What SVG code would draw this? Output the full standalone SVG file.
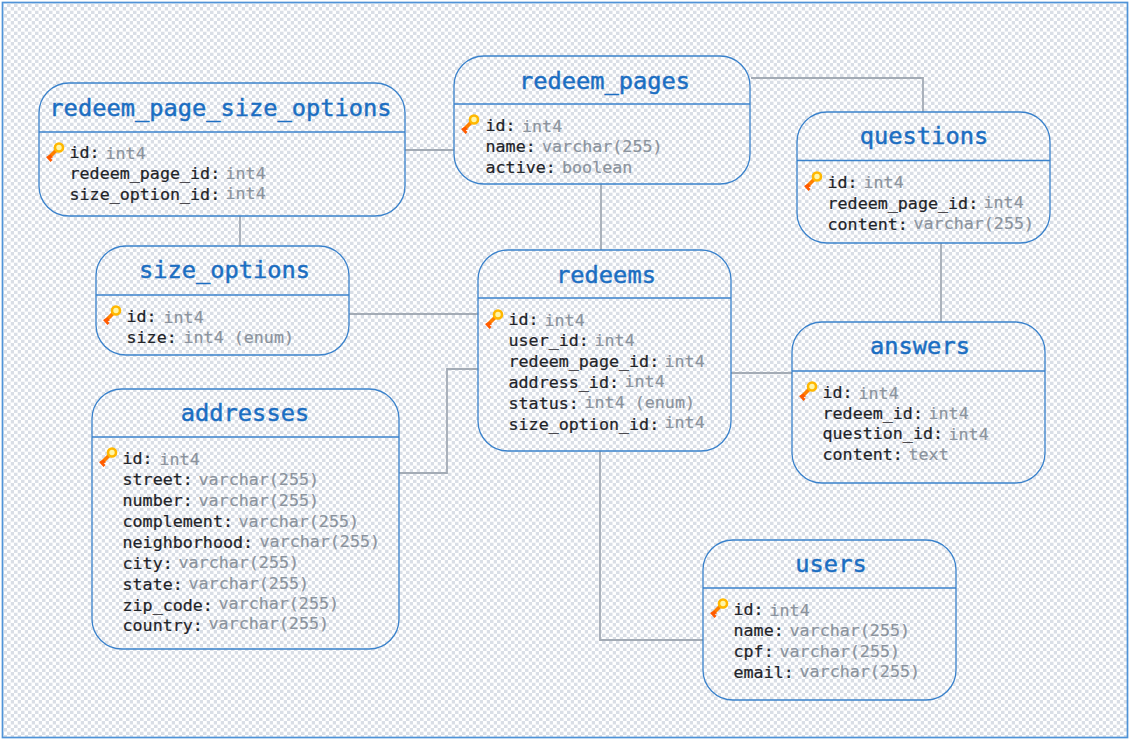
<svg xmlns="http://www.w3.org/2000/svg" width="1130" height="741" viewBox="0 0 1130 741">
<style>
.box{fill:none;stroke:#3a82cc;stroke-width:1.3}
.hd{stroke:#3a82cc;stroke-width:1.3;fill:none}
.c{fill:none;stroke:#a3abb5;stroke-width:1.8}
text{font-family:"DejaVu Sans Mono","Liberation Mono",monospace}
.t{font-size:23.7px;fill:#1b6ec2;stroke:#1b6ec2;stroke-width:.45;text-anchor:middle}
.l{font-size:16.7px;fill:#1f2328;stroke:#1f2328;stroke-width:.22}
.y{font-size:16.7px;fill:#8b939d;stroke:#8b939d;stroke-width:.2}
</style>
<defs>
<pattern id="bg" width="7" height="7" patternUnits="userSpaceOnUse">
<rect width="7" height="7" fill="#d9dee6"/>
<path d="M0 0h3.800v3.800h-3.800zM3.500 3.500h3.500v3.500h-3.500z" fill="#ffffff"/>
</pattern>
<g id="key">
<path d="M2.500 16L11.500 7" stroke="#ff7f00" stroke-width="3.800" fill="none"/>
<path d="M0 15l4.500 5 2-2-2-2 2.500-.5-2.500-3z" fill="#ff5a00"/>
<circle cx="13" cy="5.500" r="4" fill="#fff6a8" stroke="#ffb800" stroke-width="2.600"/>
</g>
</defs>
<rect x="2.500" y="2.500" width="1125" height="735" fill="url(#bg)" stroke="#4f93d8" stroke-width="1.700"/>
<g id="connectors">
<path class="c" d="M405 150H454"/>
<path class="c" d="M751 78H923V112"/>
<path class="c" d="M601 184V250"/>
<path class="c" d="M240 216V246"/>
<path class="c" d="M349 314H478"/>
<path class="c" d="M941 243V322"/>
<path class="c" d="M731 373H792"/>
<path class="c" d="M399 473H447V369H478"/>
<path class="c" d="M600 451V640H703"/>
</g>
<g id="redeem_page_size_options">
<rect class="box" x="39" y="83" width="366" height="133" rx="30"/><path class="hd" d="M39 132H405"/>
<text class="t" x="220.500" y="116">redeem_page_size_options</text>
<use href="#key" x="46" y="142"/>
<text class="l" x="69.500" y="158">id:</text><text class="y" x="105.500" y="159">int4</text>
<text class="l" x="69.500" y="179">redeem_page_id:</text><text class="y" x="225.500" y="179">int4</text>
<text class="l" x="69.500" y="200">size_option_id:</text><text class="y" x="225.500" y="199">int4</text>
</g>
<g id="redeem_pages">
<rect class="box" x="454" y="56" width="296" height="128" rx="30"/><path class="hd" d="M454 104H750"/>
<text class="t" x="604.500" y="89">redeem_pages</text>
<use href="#key" x="461" y="114"/>
<text class="l" x="485.500" y="131">id:</text><text class="y" x="522" y="132">int4</text>
<text class="l" x="485.500" y="152">name:</text><text class="y" x="542" y="152">varchar(255)</text>
<text class="l" x="485.500" y="173">active:</text><text class="y" x="562" y="173">boolean</text>
</g>
<g id="questions">
<rect class="box" x="797" y="112" width="253" height="131" rx="30"/><path class="hd" d="M797 160.500H1050"/>
<text class="t" x="924" y="144">questions</text>
<use href="#key" x="804" y="171"/>
<text class="l" x="827.500" y="188">id:</text><text class="y" x="863.500" y="188">int4</text>
<text class="l" x="827.500" y="209">redeem_page_id:</text><text class="y" x="983.500" y="208">int4</text>
<text class="l" x="827.500" y="230">content:</text><text class="y" x="913.500" y="229">varchar(255)</text>
</g>
<g id="size_options">
<rect class="box" x="96" y="246" width="253" height="109" rx="30"/><path class="hd" d="M96 295H349"/>
<text class="t" x="224.500" y="278">size_options</text>
<use href="#key" x="103" y="305"/>
<text class="l" x="126.500" y="322">id:</text><text class="y" x="163.500" y="323">int4</text>
<text class="l" x="126.500" y="343">size:</text><text class="y" x="183.500" y="343">int4 (enum)</text>
</g>
<g id="redeems">
<rect class="box" x="478" y="250" width="253" height="201" rx="30"/><path class="hd" d="M478 298H731"/>
<text class="t" x="606" y="283">redeems</text>
<use href="#key" x="485" y="309"/>
<text class="l" x="508.500" y="325">id:</text><text class="y" x="544.500" y="326">int4</text>
<text class="l" x="508.500" y="346">user_id:</text><text class="y" x="594.500" y="346">int4</text>
<text class="l" x="508.500" y="367">redeem_page_id:</text><text class="y" x="664.500" y="367">int4</text>
<text class="l" x="508.500" y="388">address_id:</text><text class="y" x="624.500" y="387">int4</text>
<text class="l" x="508.500" y="409">status:</text><text class="y" x="584.500" y="408">int4 (enum)</text>
<text class="l" x="508.500" y="430">size_option_id:</text><text class="y" x="664.500" y="428">int4</text>
</g>
<g id="answers">
<rect class="box" x="792" y="322" width="253" height="161" rx="30"/><path class="hd" d="M792 371H1045"/>
<text class="t" x="920" y="354">answers</text>
<use href="#key" x="799" y="381"/>
<text class="l" x="822.500" y="398">id:</text><text class="y" x="858.500" y="399">int4</text>
<text class="l" x="822.500" y="419">redeem_id:</text><text class="y" x="928.500" y="419">int4</text>
<text class="l" x="822.500" y="439">question_id:</text><text class="y" x="948.500" y="440">int4</text>
<text class="l" x="822.500" y="460">content:</text><text class="y" x="908.500" y="460">text</text>
</g>
<g id="addresses">
<rect class="box" x="92" y="389" width="307" height="260" rx="30"/><path class="hd" d="M92 437H399"/>
<text class="t" x="245" y="421">addresses</text>
<use href="#key" x="99" y="447"/>
<text class="l" x="122.500" y="464">id:</text><text class="y" x="159.500" y="465">int4</text>
<text class="l" x="122.500" y="485">street:</text><text class="y" x="198.500" y="485">varchar(255)</text>
<text class="l" x="122.500" y="506">number:</text><text class="y" x="198.500" y="506">varchar(255)</text>
<text class="l" x="122.500" y="527">complement:</text><text class="y" x="238.500" y="527">varchar(255)</text>
<text class="l" x="122.500" y="548">neighborhood:</text><text class="y" x="259.500" y="547">varchar(255)</text>
<text class="l" x="122.500" y="569">city:</text><text class="y" x="178.500" y="568">varchar(255)</text>
<text class="l" x="122.500" y="590">state:</text><text class="y" x="188.500" y="589">varchar(255)</text>
<text class="l" x="122.500" y="611">zip_code:</text><text class="y" x="218.500" y="609">varchar(255)</text>
<text class="l" x="122.500" y="631">country:</text><text class="y" x="208.500" y="629">varchar(255)</text>
</g>
<g id="users">
<rect class="box" x="703" y="540" width="253" height="160" rx="30"/><path class="hd" d="M703 588H956"/>
<text class="t" x="831" y="572">users</text>
<use href="#key" x="710" y="598"/>
<text class="l" x="733.500" y="615">id:</text><text class="y" x="769.500" y="616">int4</text>
<text class="l" x="733.500" y="636">name:</text><text class="y" x="789.500" y="636">varchar(255)</text>
<text class="l" x="733.500" y="657">cpf:</text><text class="y" x="779.500" y="657">varchar(255)</text>
<text class="l" x="733.500" y="678">email:</text><text class="y" x="799.500" y="677">varchar(255)</text>
</g>
</svg>
